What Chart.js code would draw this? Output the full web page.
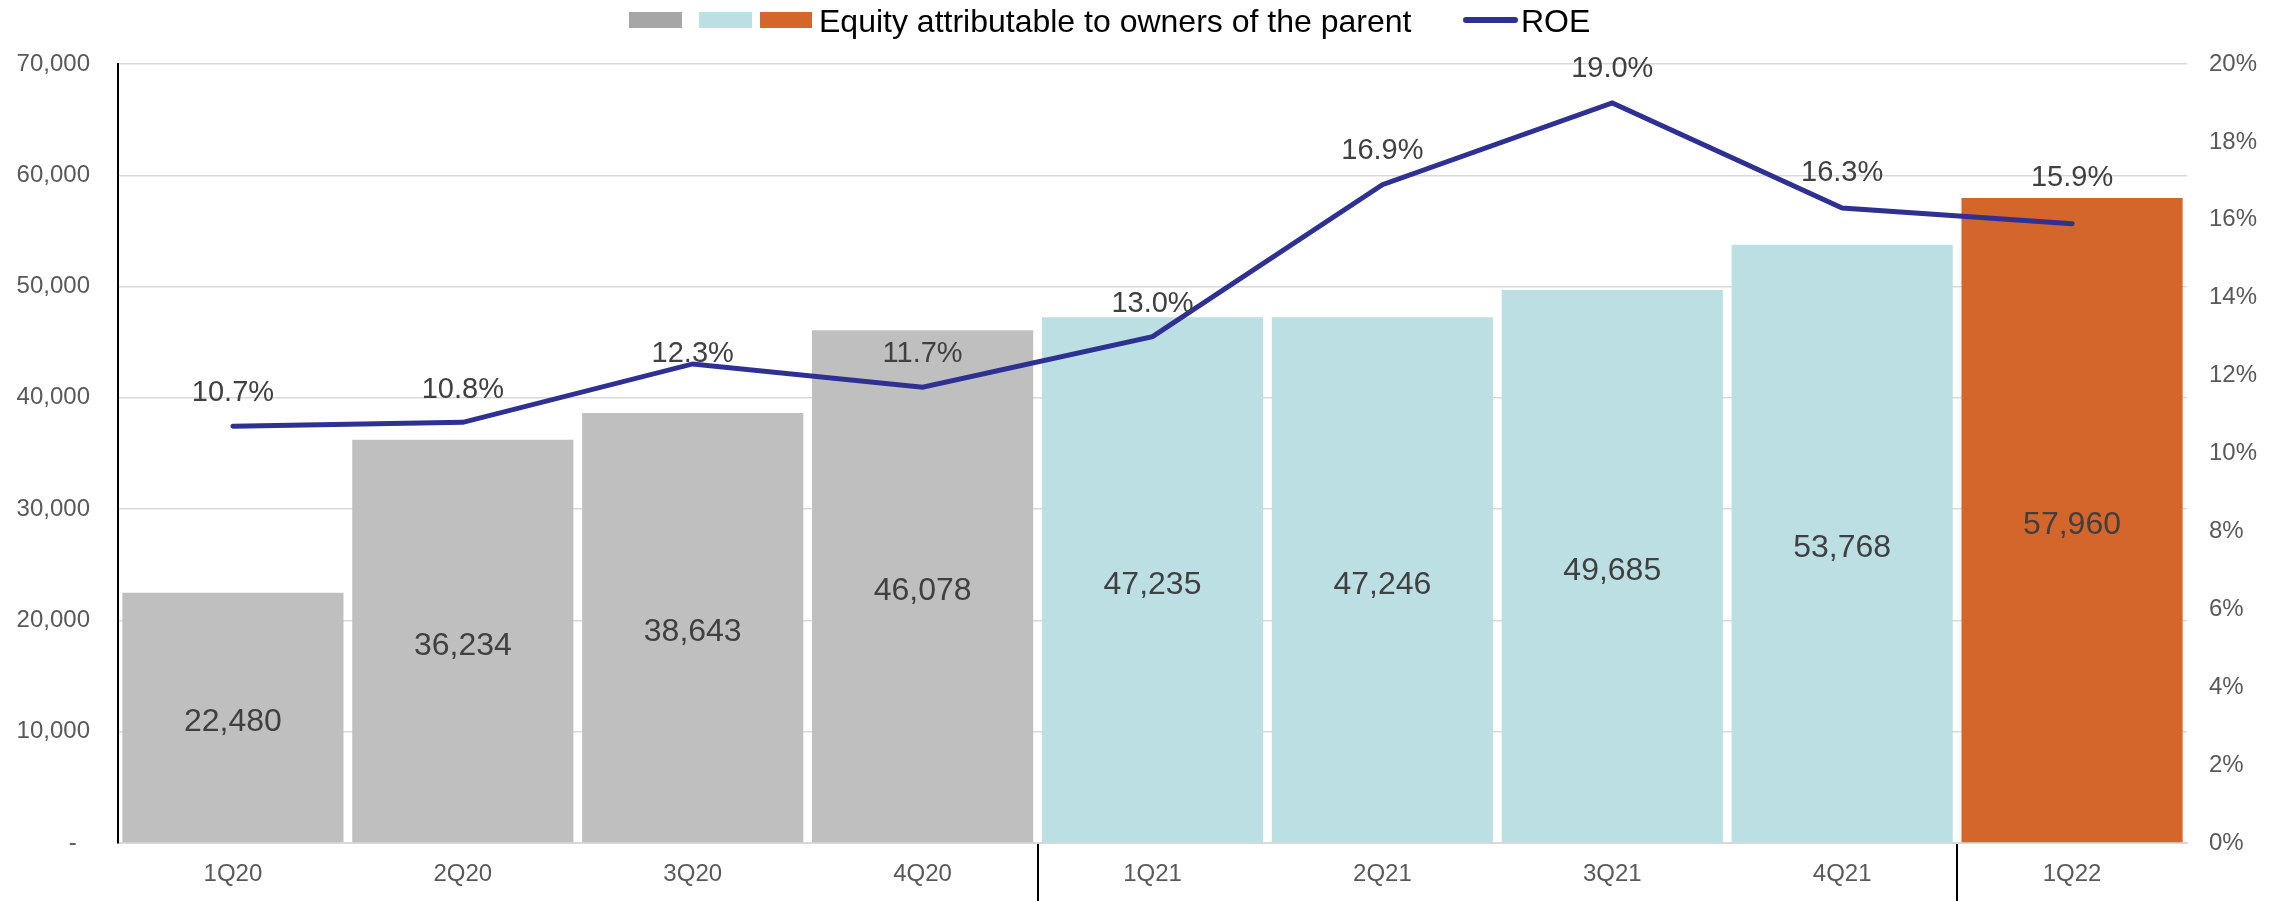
<!DOCTYPE html>
<html>
<head>
<meta charset="utf-8">
<script src="https://cdn.jsdelivr.net/npm/chart.js@4/dist/chart.umd.min.js"></script>
<style>
  html, body { margin: 0; padding: 0; background: #fff; }
  #wrap { position: relative; width: 2287px; height: 901px; }
  #chart-canvas { position: absolute; left: 0; top: 0; }
  .lg-box { position: absolute; display: block; }
  .lg-txt { position: absolute; font-family: "Liberation Sans", Arial, sans-serif; font-size: 32px;
            line-height: 32px; color: #000; white-space: nowrap; }
</style>
</head>
<body>
<div id="wrap">
  <canvas id="chart-canvas" width="2287" height="901"></canvas>
  <span class="lg-box" style="left:629px;top:12px;width:53px;height:16px;background:#a6a6a6"></span>
  <span class="lg-box" style="left:699px;top:12px;width:53px;height:16px;background:#bcdfe3"></span>
  <span class="lg-box" style="left:760px;top:12px;width:52px;height:16px;background:#d4652b"></span>
  <span class="lg-txt" style="left:819px;top:5px">Equity attributable to owners of the parent</span>
  <span class="lg-box" style="left:1463px;top:17px;width:55px;height:6px;border-radius:3px;background:#2e3192"></span>
  <span class="lg-txt" style="left:1521px;top:5px">ROE</span>
</div>
<script>
let chartCanvas = document.getElementById('chart-canvas');

// data
const quarters = ['1Q20', '2Q20', '3Q20', '4Q20', '1Q21', '2Q21', '3Q21', '4Q21', '1Q22'];
const equity = [22480, 36234, 38643, 46078, 47235, 47246, 49685, 53768, 57960];
const roe = [10.7, 10.8, 12.3, 11.7, 13.0, 16.9, 19.0, 16.3, 15.9];
const equityTicks = [0, 10000, 20000, 30000, 40000, 50000, 60000, 70000];
const roeTicks = [0, 2, 4, 6, 8, 10, 12, 14, 16, 18, 20];

const FONT = '"Liberation Sans", Arial, sans-serif';

// bar colour by year
function barColor(ctx) {
    let q = quarters[ctx.dataIndex] || '';
    if (q.endsWith('20')) return '#bfbfbf';
    if (q.endsWith('21')) return '#bcdfe3';
    return '#d4652b';
}

// how far above the point each ROE label sits (px)
const roeLabelLift = [33, 32, 10, 33, 33, 34, 34, 35, 46];

const valueLabels = {
    id: 'valueLabels',
    afterDatasetsDraw(chart) {
        const ctx = chart.ctx;
        ctx.save();
        ctx.fillStyle = '#404040';
        ctx.textAlign = 'center';
        ctx.textBaseline = 'middle';

        ctx.font = '32px ' + FONT;
        chart.getDatasetMeta(0).data.forEach((bar, i) => {
            ctx.fillText(equity[i].toLocaleString('en-US'), bar.x, (bar.y + bar.base) / 2 + 5);
        });

        ctx.font = '29px ' + FONT;
        chart.getDatasetMeta(1).data.forEach((pt, i) => {
            ctx.fillText(roe[i].toFixed(1) + '%', pt.x, pt.y - roeLabelLift[i]);
        });
        ctx.restore();
    }
};

// black dividers below the axis between the years
const yearDividers = {
    id: 'yearDividers',
    afterDraw(chart) {
        const x = chart.scales.x;
        const ctx = chart.ctx;
        ctx.save();
        ctx.strokeStyle = '#000';
        ctx.lineWidth = 2;
        [3, 7].forEach(i => {
            let px = Math.round((x.getPixelForValue(i) + x.getPixelForValue(i + 1)) / 2);
            ctx.beginPath();
            ctx.moveTo(px, chart.chartArea.bottom + 1);
            ctx.lineTo(px, chart.height);
            ctx.stroke();
        });
        ctx.restore();
    }
};

const myChart = new Chart(chartCanvas, {
    data: {
        labels: quarters,
        datasets: [{
            type: 'bar',
            label: 'Equity attributable to owners of the parent',
            data: equity,
            backgroundColor: barColor,
            barPercentage: 0.962,
            categoryPercentage: 1,
            yAxisID: 'y',
            order: 2
        }, {
            type: 'line',
            label: 'ROE',
            data: roe,
            borderColor: '#2e3192',
            borderWidth: 5,
            borderCapStyle: 'round',
            borderJoinStyle: 'miter',
            pointRadius: 0,
            tension: 0,
            yAxisID: 'y1',
            order: 1
        }]
    },
    options: {
        responsive: false,
        animation: false,
        layout: { padding: { top: 64, left: 0, right: 0, bottom: 0 } },
        plugins: {
            legend: { display: false },
            tooltip: { enabled: false }
        },
        scales: {
            x: {
                grid: { display: false },
                border: { display: true, color: '#d9d9d9', width: 2 },
                ticks: { color: '#595959', font: { family: FONT, size: 24 }, padding: 9 },
                afterFit(s) { s.height = 58; }
            },
            y: {
                position: 'left',
                min: 0,
                max: 70000,
                afterBuildTicks(s) { s.ticks = equityTicks.map(v => ({ value: v })); },
                grid: { color: '#d9d9d9', lineWidth: 1.5, drawTicks: false },
                border: { display: true, color: '#000', width: 2 },
                ticks: {
                    color: '#595959',
                    font: { family: FONT, size: 24 },
                    padding: 28,
                    callback: v => v === 0 ? '-  ' : v.toLocaleString('en-US')
                },
                afterFit(s) { s.width = 118; }
            },
            y1: {
                position: 'right',
                min: 0,
                max: 20,
                afterBuildTicks(s) { s.ticks = roeTicks.map(v => ({ value: v })); },
                grid: { drawOnChartArea: false, drawTicks: false },
                border: { display: false },
                ticks: {
                    color: '#595959',
                    font: { family: FONT, size: 24 },
                    padding: 22,
                    callback: v => v + '%'
                },
                afterFit(s) { s.width = 100; }
            }
        }
    },
    plugins: [valueLabels, yearDividers]
});
</script>
</body>
</html>
